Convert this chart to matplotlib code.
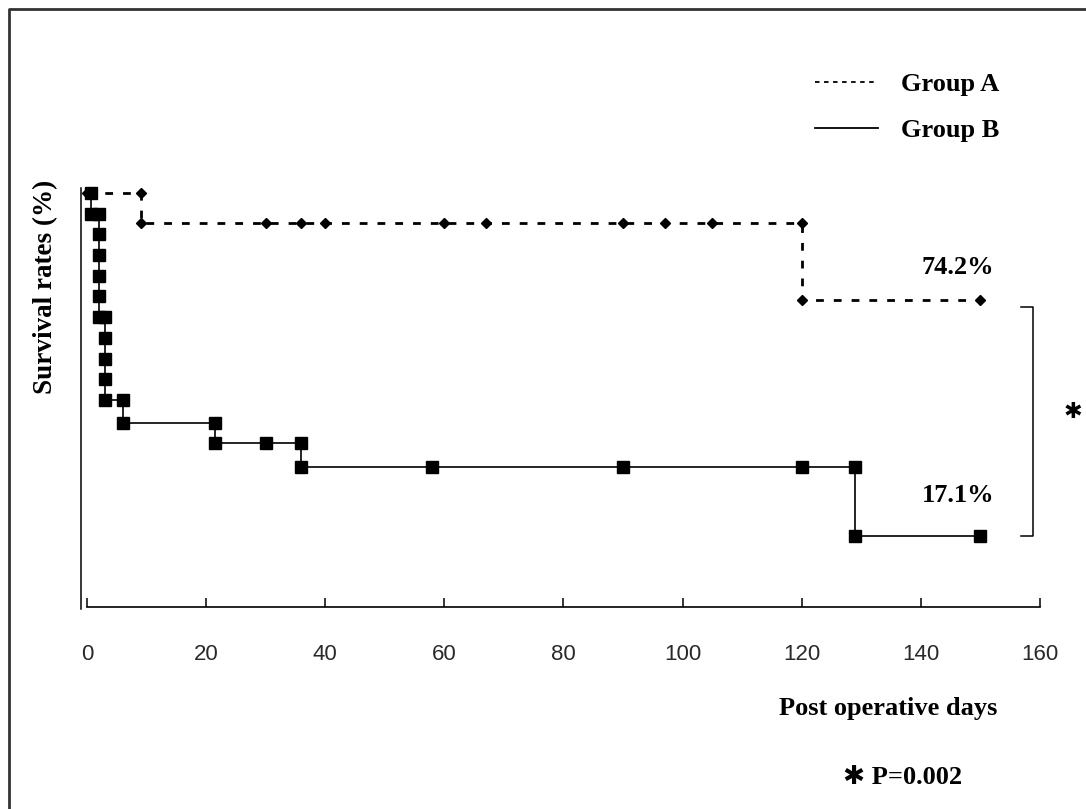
import matplotlib
matplotlib.use('Agg')
import matplotlib.pyplot as plt
from matplotlib.lines import Line2D

# life table points for each group (day, survival %)
a_days = [0, 9, 9, 30, 36, 40, 60, 67, 90, 97, 105, 120, 120, 150]
a_surv = [100, 100, 92.7, 92.7, 92.7, 92.7, 92.7, 92.7, 92.7, 92.7, 92.7, 92.7, 74.2, 74.2]

b_days = [0.6, 0.6, 2, 2, 2, 2, 2, 2, 3, 3, 3, 3, 3, 6, 6, 21.5, 21.5,
          30, 36, 36, 58, 90, 120, 129, 129, 150]
b_surv = [100, 95, 95, 90, 85, 80, 75, 70, 70, 65, 60, 55, 50, 50, 44.5, 44.5,
          39.6, 39.6, 39.6, 33.8, 33.8, 33.8, 33.8, 33.8, 17.1, 17.1]

groups = ['Group A', 'Group B']
final_a = 74.2
final_b = 17.1
p_value = '0.002'
x_ticks = list(range(0, 161, 20))

serif = 'Liberation Serif'

fig = plt.figure(figsize=(10.86, 8.09), dpi=100)
W, H = 1086, 809
ax = fig.add_axes([81 / W, 1 - 609 / H, (1040 - 81) / W, (609 - 188) / H])

ax.plot(a_days, a_surv, color='black', lw=2.0, linestyle=(0, (2.8, 3.6)),
        marker='D', markersize=5, clip_on=False, zorder=3)
ax.plot(b_days, b_surv, color='black', lw=1.2, linestyle='-',
        marker='s', markersize=9.2, clip_on=False, zorder=4)

ax.set_xlim(-1, 160)
ax.set_ylim(-0.5, 101.2)

for s in ['top', 'right']:
    ax.spines[s].set_visible(False)
ax.spines['bottom'].set_position(('data', 0))
ax.spines['bottom'].set_bounds(0, 160)
ax.spines['bottom'].set_linewidth(1.2)
ax.spines['left'].set_linewidth(1.1)

ax.set_xticks(x_ticks)
ax.set_xticklabels([str(t) for t in x_ticks], fontfamily='Liberation Sans',
                   fontsize=16, color='#2a2a2a')
ax.tick_params(axis='x', direction='in', length=6.5, width=1.1, pad=27)
ax.set_yticks([])

# final survival labels
ax.text(152.3, final_a + 7.9, f'{final_a}%', ha='right', va='center',
        fontfamily=serif, fontweight='bold', fontsize=19)
ax.text(152.3, final_b + 9.9, f'{final_b}%', ha='right', va='center',
        fontfamily=serif, fontweight='bold', fontsize=19)

# significance bracket
bx, bx0 = 158.8, 156.8
ytop, ybot = final_a - 1.7, final_b
ax.plot([bx0, bx, bx, bx0], [ytop, ytop, ybot, ybot], color='black',
        lw=1.1, clip_on=False)
ax.text(1073 / W, 1 - 412 / H, '\u2731', transform=fig.transFigure,
        ha='center', va='center', fontfamily='DejaVu Sans', fontsize=16)

# legend
handles = [Line2D([], [], color='black', lw=1.3, linestyle=(0, (2.5, 2.5))),
           Line2D([], [], color='black', lw=1.3)]
leg = ax.legend(handles, groups, loc='upper left', frameon=False,
                bbox_to_anchor=(815 / W, 1 - 73 / H),
                bbox_transform=fig.transFigure, borderpad=0, borderaxespad=0,
                handlelength=2.4, handletextpad=0.85, labelspacing=0.85,
                prop={'family': serif, 'weight': 'bold', 'size': 19})

fig.text(46 / W, 1 - 287 / H, 'Survival rates (%)', rotation=90,
         ha='center', va='center', fontfamily=serif, fontweight='bold',
         fontsize=19.5)
fig.text(888 / W, 1 - 708 / H, 'Post operative days', ha='center',
         va='center', fontfamily=serif, fontweight='bold', fontsize=19)
fig.text(903 / W, 1 - 778 / H, '\u2731 P=' + p_value, ha='center',
         va='center', fontfamily=[serif, 'DejaVu Sans'], fontweight='bold',
         fontsize=19)

# outer frame (left and top edges)
fig.add_artist(Line2D([9 / W, 9 / W, 1.0], [0.0, 1 - 9 / H, 1 - 9 / H],
                      transform=fig.transFigure, color='#333333', lw=2.0))

fig.savefig('out.png', dpi=100)
